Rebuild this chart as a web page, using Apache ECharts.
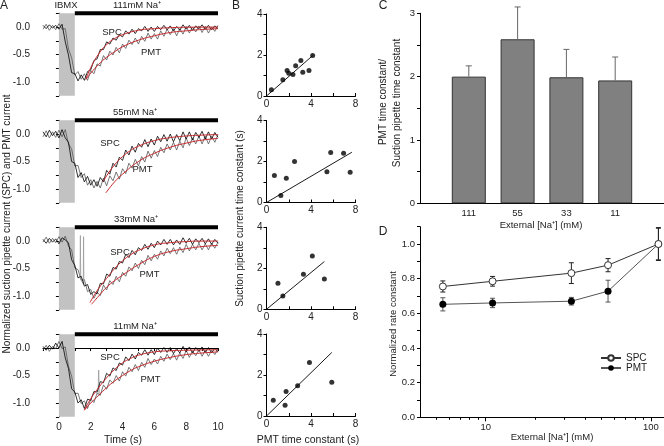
<!DOCTYPE html>
<html><head><meta charset="utf-8">
<script src="https://cdn.jsdelivr.net/npm/echarts@6/dist/echarts.min.js"></script>
<style>html,body{margin:0;padding:0;background:#fff}#c{width:664px;height:446px}</style>
</head><body><div id="c"></div>
<script>
// ---------- Panel A: time course traces ----------
const timeS = [-1,-0.8,-0.6,-0.4,-0.2,0,0.2,0.4,0.6,0.8,1,1.2,1.4,1.6,1.8,2,2.2,2.4,2.6,2.8,3,3.2,3.4,3.6,3.8,4,4.2,4.4,4.6,4.8,5,5.2,5.4,5.6,5.8,6,6.2,6.4,6.6,6.8,7,7.2,7.4,7.6,7.8,8,8.2,8.4,8.6,8.8,9,9.2,9.4,9.6,9.8,10];
const spc111 = [0.03,-0.03,0.04,-0.02,0.03,-0.04,0.05,-0.27,-0.51,-0.83,-0.85,-0.98,-0.87,-0.97,-0.81,-0.78,-0.61,-0.58,-0.41,-0.41,-0.27,-0.31,-0.20,-0.24,-0.14,-0.18,-0.07,-0.13,-0.04,-0.12,-0.03,-0.07,0.01,-0.08,0.00,-0.08,0.01,-0.05,0.03,-0.05,0.02,-0.07,0.01,-0.06,0.04,-0.04,0.03,-0.06,0.02,-0.03,0.04,-0.04,0.03,-0.05,0.02,-0.03];
const pmt111 = [-0.04,0.05,-0.06,0.03,-0.05,0.06,-0.04,-0.03,-0.40,-0.56,-0.87,-0.81,-0.95,-0.85,-0.97,-0.79,-0.85,-0.67,-0.71,-0.52,-0.60,-0.44,-0.51,-0.37,-0.47,-0.31,-0.39,-0.24,-0.32,-0.20,-0.31,-0.17,-0.26,-0.11,-0.22,-0.12,-0.22,-0.07,-0.17,-0.04,-0.14,-0.03,-0.16,-0.03,-0.13,0.01,-0.11,0.00,-0.09,0.02,-0.10,0.01,-0.11,0.00,-0.08,0.03];
const spc55 = [0.04,-0.05,0.07,-0.03,0.05,-0.07,0.08,-0.07,-0.15,-0.50,-0.53,-0.79,-0.70,-0.87,-0.77,-0.93,-0.83,-0.95,-0.79,-0.87,-0.66,-0.73,-0.53,-0.60,-0.42,-0.48,-0.29,-0.38,-0.22,-0.33,-0.17,-0.24,-0.10,-0.23,-0.09,-0.20,-0.04,-0.14,-0.01,-0.13,0.00,-0.14,-0.01,-0.12,0.04,-0.09,0.04,-0.11,0.03,-0.06,0.05,-0.09,0.04,-0.09,0.03,-0.06];
const pmt55 = [-0.05,0.06,-0.07,0.04,-0.06,0.07,-0.05,0.08,-0.18,-0.27,-0.58,-0.57,-0.79,-0.72,-0.93,-0.83,-0.98,-0.86,-0.98,-0.80,-0.94,-0.76,-0.85,-0.69,-0.82,-0.63,-0.72,-0.53,-0.62,-0.46,-0.58,-0.41,-0.51,-0.31,-0.44,-0.30,-0.41,-0.24,-0.34,-0.18,-0.29,-0.15,-0.29,-0.13,-0.25,-0.07,-0.21,-0.07,-0.18,-0.04,-0.18,-0.04,-0.18,-0.04,-0.15,-0.01];
const spc33 = [0.03,-0.04,0.05,-0.02,0.04,-0.05,0.06,0.02,-0.03,-0.34,-0.44,-0.67,-0.64,-0.82,-0.79,-0.97,-0.92,-0.96,-0.77,-0.78,-0.60,-0.64,-0.48,-0.51,-0.37,-0.40,-0.24,-0.30,-0.17,-0.25,-0.12,-0.17,-0.06,-0.15,-0.04,-0.12,0.00,-0.07,0.03,-0.06,0.03,-0.07,0.02,-0.06,0.06,-0.04,0.05,-0.06,0.04,-0.03,0.05,-0.05,0.04,-0.06,0.03,-0.04];
const pmt33 = [-0.02,0.07,-0.04,0.05,-0.03,0.08,-0.02,0.09,-0.09,-0.16,-0.49,-0.52,-0.71,-0.70,-0.92,-0.88,-1.04,-0.93,-0.99,-0.80,-0.89,-0.72,-0.79,-0.64,-0.74,-0.57,-0.64,-0.47,-0.54,-0.40,-0.50,-0.35,-0.43,-0.26,-0.36,-0.24,-0.33,-0.18,-0.27,-0.13,-0.23,-0.12,-0.24,-0.11,-0.21,-0.06,-0.18,-0.06,-0.16,-0.04,-0.16,-0.05,-0.16,-0.04,-0.13,-0.02];
const spc11 = [0.03,-0.04,0.05,-0.02,0.09,0.00,0.12,-0.18,-0.37,-0.74,-0.80,-1.00,-0.94,-1.10,-0.93,-0.95,-0.79,-0.80,-0.61,-0.63,-0.46,-0.51,-0.36,-0.41,-0.27,-0.31,-0.16,-0.23,-0.11,-0.20,-0.08,-0.13,-0.03,-0.13,-0.03,-0.12,0.00,-0.08,0.01,-0.08,0.01,-0.10,-0.01,-0.09,0.03,-0.07,0.02,-0.09,0.01,-0.06,0.02,-0.08,0.01,-0.09,0.00,-0.07];
const pmt11 = [-0.04,0.05,-0.06,0.03,-0.01,0.12,-0.01,0.02,-0.33,-0.51,-0.83,-0.82,-1.01,-0.96,-1.10,-0.93,-0.99,-0.82,-0.86,-0.67,-0.75,-0.58,-0.64,-0.50,-0.60,-0.43,-0.51,-0.35,-0.43,-0.30,-0.41,-0.26,-0.35,-0.19,-0.30,-0.20,-0.29,-0.15,-0.24,-0.11,-0.21,-0.10,-0.22,-0.09,-0.19,-0.04,-0.17,-0.05,-0.14,-0.03,-0.15,-0.04,-0.15,-0.04,-0.12,-0.01];
// artifacts (grey spikes)
const artT33 = [1.33,1.35,1.37,1.53,1.55,1.57];
const artV33 = [-0.66,0.10,-0.70,-0.78,0.08,-0.80];
const artT11 = [2.46,2.50,2.54];
const artV11 = [-0.86,-0.40,-0.84];
// exponential fits (red)
const fitSpcT111 = [1.7,2.0,2.5,3.0,3.5,4.0,5.0,6.0,7.0,8.0,9.0,10.0];
const fitSpcV111 = [-0.95,-0.74,-0.49,-0.32,-0.21,-0.14,-0.06,-0.03,-0.012,-0.005,-0.002,-0.001];
const fitPmtT111 = [1.7,2.0,2.5,3.0,3.5,4.0,5.0,6.0,7.0,8.0,9.0,10.0];
const fitPmtV111 = [-0.95,-0.84,-0.68,-0.55,-0.45,-0.36,-0.24,-0.16,-0.10,-0.07,-0.045,-0.03];
const fitSpcT55 = [2.8,3.0,3.5,4.0,4.5,5.0,6.0,7.0,8.0,9.0,10.0];
const fitSpcV55 = [-0.86,-0.76,-0.56,-0.41,-0.30,-0.22,-0.12,-0.065,-0.035,-0.019,-0.01];
const fitPmtT55 = [2.95,3.0,3.5,4.0,5.0,6.0,7.0,8.0,9.0,10.0];
const fitPmtV55 = [-1.07,-1.05,-0.87,-0.73,-0.50,-0.35,-0.24,-0.165,-0.11,-0.08];
const fitSpcT33 = [1.95,2.5,3.0,3.5,4.0,4.5,5.0,6.0,7.0,8.0,9.0,10.0];
const fitSpcV33 = [-1.12,-0.86,-0.68,-0.50,-0.36,-0.25,-0.17,-0.07,-0.03,-0.01,0.0,0.0];
const fitPmtT33 = [2.05,2.5,3.0,3.5,4.0,4.5,5.0,6.0,7.0,8.0,9.0,10.0];
const fitPmtV33 = [-1.15,-1.0,-0.84,-0.72,-0.62,-0.52,-0.43,-0.28,-0.19,-0.14,-0.10,-0.08];
const fitSpcT11 = [1.6,2.0,2.5,3.0,3.5,4.0,4.5,5.0,6.0,7.0,8.0,10.0];
const fitSpcV11 = [-1.13,-0.92,-0.72,-0.54,-0.39,-0.27,-0.19,-0.13,-0.07,-0.05,-0.04,-0.03];
const fitPmtT11 = [1.6,2.0,2.5,3.0,3.5,4.0,4.5,5.0,6.0,7.0,8.0,9.0,10.0];
const fitPmtV11 = [-1.13,-1.0,-0.86,-0.72,-0.60,-0.50,-0.41,-0.34,-0.24,-0.17,-0.12,-0.09,-0.07];
const naLabels = ['111mM Na⁺','55mM Na⁺','33mM Na⁺','11mM Na⁺'];
const ibmxOn = 0, ibmxOff = 1, naOn = 1, naOff = 10;

// ---------- Panel B: scatter ----------
const b1X = [0.44,1.47,1.85,2.0,2.38,2.62,3.09,3.26,3.82,4.15];
const b1Y = [0.31,0.79,1.24,1.11,1.05,1.48,1.73,1.16,1.24,1.97];
const b2X = [0.71,1.29,1.78,2.52,5.43,5.77,6.93,7.52];
const b2Y = [1.32,0.34,1.18,2.0,1.5,2.44,2.40,1.47];
const b3X = [1.03,1.47,3.32,4.12,5.2];
const b3Y = [1.27,0.65,1.71,2.6,1.48];
const b4X = [0.61,1.67,1.76,2.8,3.86,5.87];
const b4Y = [0.77,0.53,1.19,1.48,2.61,1.65];
const bLineX = [[0,4.15],[0,7.67],[0,5.2],[0,5.87]];
const bLineY = [[0,1.97],[0,2.45],[0,2.33],[0,3.1]];

// ---------- Panel C: bars ----------
const catC = ['111','55','33','11'];
const ratioC = [2.0,2.59,1.99,1.94];
const errC = [0.17,0.51,0.44,0.37];

// ---------- Panel D: rate constants ----------
const naConc = [5.5,11,33,55,111];
const spcRate = [0.755,0.785,0.832,0.878,1.0];
const spcErr = [0.032,0.028,0.06,0.038,0.095];
const pmtRate = [0.652,0.66,0.67,0.728,1.0];
const pmtErr = [0.038,0.027,0.022,0.063,0.09];

const FONT = '"Liberation Sans", Arial, sans-serif';
const zip = (xs, ys) => xs.map((x,i)=>[x, ys[i]]);
const chart = echarts.init(document.getElementById('c'), null, {renderer:'canvas'});

const panelsA = [
  {spc:spc111, pmt:pmt111, fsT:fitSpcT111, fsV:fitSpcV111, fpT:fitPmtT111, fpV:fitPmtV111},
  {spc:spc55, pmt:pmt55, fsT:fitSpcT55, fsV:fitSpcV55, fpT:fitPmtT55, fpV:fitPmtV55},
  {spc:spc33, pmt:pmt33, fsT:fitSpcT33, fsV:fitSpcV33, fpT:fitPmtT33, fpV:fitPmtV33, aT:artT33, aV:artV33},
  {spc:spc11, pmt:pmt11, fsT:fitSpcT11, fsV:fitSpcV11, fpT:fitPmtT11, fpV:fitPmtV11, aT:artT11, aV:artV11}
];
const bX = [b1X,b2X,b3X,b4X], bY = [b1Y,b2Y,b3Y,b4Y];

const topsA = [13.25,120.3,227.3,334.3];
const topsB = [14,120.5,227.3,334];
const yMinA = -1.25, yMaxA = 0.25;

const grids = [], xAxes = [], yAxes = [], series = [];
const axLine = {show:true, lineStyle:{color:'#000', width:1}};
const lbl = (size, extra) => Object.assign({fontSize:size, color:'#222', fontFamily:FONT}, extra||{});

topsA.forEach((t,i)=>{
  grids.push({left:43, top:t, width:175, height:82.5, outerBoundsMode:'none'});
  const last = i===3;
  xAxes.push({gridIndex:i, type:'value', min:-1, max:10, interval:1, show:last,
    axisLine:axLine, axisTick:{show:true, length:3, lineStyle:{color:'#000'}},
    axisLabel:lbl(10,{margin:5, formatter:v=> (v>=0 && v%2===0) ? String(v) : ''}),
    splitLine:{show:false}});
  yAxes.push({gridIndex:i, type:'value', min:yMinA, max:yMaxA, interval:0.25, offset:8,
    axisLine:axLine, axisTick:{show:true, length:3, lineStyle:{color:'#000'}},
    axisLabel:lbl(10,{margin:5, formatter:v=> Math.abs(v*2-Math.round(v*2))<1e-6 ? v.toFixed(1) : ''}),
    splitLine:{show:false}});
});
topsB.forEach((t,i)=>{
  const g = 4+i;
  grids.push({left:266.5, top:t, width:89, height:82, outerBoundsMode:'none'});
  xAxes.push({gridIndex:g, type:'value', min:0, max:8, interval:2,
    axisLine:axLine, axisTick:{show:true, inside:true, length:3, lineStyle:{color:'#000'}},
    axisLabel:lbl(10,{margin:3, formatter:v=> v%4===0 ? String(v) : ''}),
    splitLine:{show:false}});
  yAxes.push({gridIndex:g, type:'value', min:0, max:4, interval:1,
    axisLine:axLine, axisTick:{show:true, length:3, lineStyle:{color:'#000'}},
    axisLabel:lbl(10,{margin:4, formatter:v=> v%2===0 ? String(v) : ''}),
    splitLine:{show:false}});
});
grids.push({left:420, top:13.3, width:244, height:190, outerBoundsMode:'none'});
xAxes.push({gridIndex:8, type:'value', min:0, max:5, interval:1,
  axisLine:axLine, axisTick:{show:false},
  axisLabel:lbl(9.5,{margin:5, formatter:v=> (v>=1 && v<=catC.length) ? catC[v-1] : ''}),
  splitLine:{show:false}});
yAxes.push({gridIndex:8, type:'value', min:0, max:3, interval:0.5,
  axisLine:axLine, axisTick:{show:true, length:3, lineStyle:{color:'#000'}},
  axisLabel:lbl(9.5,{margin:5, formatter:v=> Number.isInteger(v) ? String(v) : ''}),
  splitLine:{show:false}});
grids.push({left:420, top:226.7, width:244, height:190.6, outerBoundsMode:'none'});
xAxes.push({gridIndex:9, type:'log', logBase:10, min:4, max:120,
  axisLine:axLine, axisTick:{show:true, length:4, customValues:[10,100], lineStyle:{color:'#000'}},
  axisLabel:lbl(9.5,{margin:5, customValues:[10,100]}),
  minorTick:{show:false}, splitLine:{show:false}});
yAxes.push({gridIndex:9, type:'value', min:0, max:1.1, interval:0.1,
  axisLine:axLine, axisTick:{show:true, length:3, lineStyle:{color:'#000'}},
  axisLabel:lbl(9.5,{margin:5, formatter:v=> Math.round(v*10)%2===0 ? v.toFixed(1) : ''}),
  splitLine:{show:false}});
xAxes.push({gridIndex:9, type:'log', logBase:10, min:4, max:120, position:'bottom',
  axisLine:{show:false}, axisTick:{show:true, length:2.5, customValues:[5,6,7,8,9,20,30,40,50,60,70,80,90], lineStyle:{color:'#000'}},
  axisLabel:{show:false}, splitLine:{show:false}});

panelsA.forEach((p,i)=>{
  series.push({type:'line', xAxisIndex:i, yAxisIndex:i, data:[[naOn,yMaxA],[naOff,yMaxA]], showSymbol:false, clip:false,
    lineStyle:{color:'#000', width:4}, z:1, silent:true,
    markArea:{silent:true, itemStyle:{color:'#c2c2c2'}, data:[[{xAxis:ibmxOn},{xAxis:ibmxOff}]]}});
  series.push({type:'line', xAxisIndex:i, yAxisIndex:i, data:zip(timeS,p.pmt), showSymbol:false,
    lineStyle:{color:'#555', width:0.8}, z:2, silent:true});
  series.push({type:'line', xAxisIndex:i, yAxisIndex:i, data:zip(timeS,p.spc), showSymbol:false,
    lineStyle:{color:'#000', width:0.8}, z:3, silent:true});
  if (p.aT) series.push({type:'line', xAxisIndex:i, yAxisIndex:i, data:zip(p.aT,p.aV), showSymbol:false,
    lineStyle:{color:'#999', width:0.8}, z:2, silent:true});
  series.push({type:'line', xAxisIndex:i, yAxisIndex:i, data:zip(p.fsT,p.fsV), showSymbol:false, smooth:true,
    lineStyle:{color:'#c8282d', width:1}, z:4, silent:true});
  series.push({type:'line', xAxisIndex:i, yAxisIndex:i, data:zip(p.fpT,p.fpV), showSymbol:false, smooth:true,
    lineStyle:{color:'#c8282d', width:1}, z:4, silent:true});
});
for (let i=0;i<4;i++){
  const g = 4+i;
  series.push({type:'line', xAxisIndex:g, yAxisIndex:g, data:zip(bLineX[i],bLineY[i]), showSymbol:false,
    lineStyle:{color:'#000', width:0.9}, silent:true});
  series.push({type:'scatter', xAxisIndex:g, yAxisIndex:g, data:zip(bX[i],bY[i]), symbolSize:5,
    itemStyle:{color:'#000'}, silent:true});
}
series.push({type:'bar', xAxisIndex:8, yAxisIndex:8, data:catC.map((c,i)=>[i+1, ratioC[i]]), barWidth:34,
  itemStyle:{color:'#808080', borderColor:'#333', borderWidth:1}, silent:true});
series.push({type:'custom', xAxisIndex:8, yAxisIndex:8, z:5, silent:true,
  data:catC.map((c,i)=>[i+1, ratioC[i], errC[i]]), encode:{x:0, y:1},
  renderItem:(params, api)=>{
    const x=api.value(0), y=api.value(1), e=api.value(2);
    const p0=api.coord([x,y]), p1=api.coord([x,y+e]);
    const st={stroke:'#666', lineWidth:1};
    return {type:'group', children:[
      {type:'line', shape:{x1:p0[0],y1:p0[1],x2:p1[0],y2:p1[1]}, style:st},
      {type:'line', shape:{x1:p1[0]-3,y1:p1[1],x2:p1[0]+3,y2:p1[1]}, style:st}]};
  }});
const errRender = (color)=> (params, api)=>{
  const x=api.value(0), y=api.value(1), e=api.value(2);
  const a=api.coord([x,y-e]), b=api.coord([x,y+e]);
  const st={stroke:color, lineWidth:1};
  return {type:'group', children:[
    {type:'line', shape:{x1:a[0],y1:a[1],x2:b[0],y2:b[1]}, style:st},
    {type:'line', shape:{x1:a[0]-2.5,y1:a[1],x2:a[0]+2.5,y2:a[1]}, style:st},
    {type:'line', shape:{x1:b[0]-2.5,y1:b[1],x2:b[0]+2.5,y2:b[1]}, style:st}]};
};
series.push({type:'custom', xAxisIndex:9, yAxisIndex:9, z:2, silent:true,
  data:naConc.map((c,i)=>[c, pmtRate[i], pmtErr[i]]), encode:{x:0,y:1}, renderItem:errRender('#555')});
series.push({type:'custom', xAxisIndex:9, yAxisIndex:9, z:2, silent:true,
  data:naConc.map((c,i)=>[c, spcRate[i], spcErr[i]]), encode:{x:0,y:1}, renderItem:errRender('#222')});
series.push({name:'SPC', type:'line', xAxisIndex:9, yAxisIndex:9, data:zip(naConc,spcRate), symbol:'circle', symbolSize:7,
  itemStyle:{color:'#fff', borderColor:'#333', borderWidth:1}, lineStyle:{color:'#333', width:1}, z:4, silent:true});
series.push({name:'PMT', type:'line', xAxisIndex:9, yAxisIndex:9, data:zip(naConc,pmtRate), symbol:'circle', symbolSize:7,
  itemStyle:{color:'#000'}, lineStyle:{color:'#555', width:1}, z:3, silent:true});

const txt = (text, x, y, size, rot) => ({type:'text', x, y, rotation: rot ? Math.PI/2 : 0, silent:true, z:100,
  style:{text, fill:'#222', font:`${size}px ${FONT}`, textAlign:'center', textVerticalAlign:'middle', align:'center', verticalAlign:'middle'}});
const graphics = [
  txt('A',4,6,12), txt('B',236,6,12), txt('C',383,6,12), txt('D',383,231.5,12),
  txt('IBMX',66,5.5,9.5),
  txt(naLabels[0],137,5.5,9.5), txt(naLabels[1],135,112.8,9.5), txt(naLabels[2],136,219.5,9.5), txt(naLabels[3],135,326.8,9.5),
  txt('SPC',112,32,9.5), txt('PMT',151,52,9.5),
  txt('SPC',110,143.3,9.5), txt('PMT',142.5,169.5,9.5),
  txt('SPC',120,252.5,9.5), txt('PMT',149.5,274,9.5),
  txt('SPC',110,357,9.5), txt('PMT',150.5,379.5,9.5),
  txt('Normalized suction pipette current (SPC) and PMT current',7,224,10,true),
  txt('Time (s)',123,440,10.5),
  txt('Suction pipette current time constant (s)',240,218.5,10,true),
  txt('PMT time constant (s)',308,440,10.5),
  txt('PMT time constant/',383,102,10,true),
  txt('Suction pipette time constant',397,103,10,true),
  txt('External [Na⁺] (mM)',541,225,9.5),
  txt('Normalized rate constant',393,324,9.5,true),
  txt('External [Na⁺] (mM)',552,437,9.5)
];

chart.setOption({
  animation:false,
  backgroundColor:'#fff',
  textStyle:{fontFamily:FONT},
  grid:grids, xAxis:xAxes, yAxis:yAxes, series:series,
  legend:{data:['SPC','PMT'], orient:'vertical', left:600, top:353, itemWidth:20, itemHeight:7, itemGap:0, padding:0,
    textStyle:{fontSize:10, color:'#222', fontFamily:FONT}, selectedMode:false},
  graphic:graphics
});
</script></body></html>
